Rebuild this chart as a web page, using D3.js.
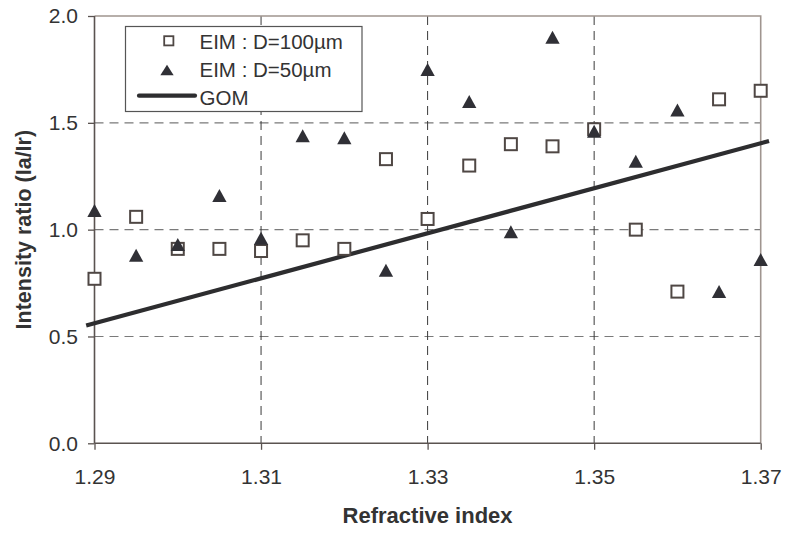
<!DOCTYPE html>
<html>
<head>
<meta charset="utf-8">
<script src="https://cdn.jsdelivr.net/npm/d3@7"></script>
<style>
  html, body { margin: 0; padding: 0; background: #fff; }
  svg { display: block; font-family: "Liberation Sans", Arial, Helvetica, sans-serif; }
</style>
</head>
<body>
<svg id="chart" width="785" height="537"></svg>
<script>
// ---- data ----
const refractiveIndex = [1.29, 1.295, 1.30, 1.305, 1.31, 1.315, 1.32, 1.325, 1.33, 1.335, 1.34, 1.345, 1.35, 1.355, 1.36, 1.365, 1.37];
const eim100 = [0.77, 1.06, 0.91, 0.91, 0.90, 0.95, 0.91, 1.33, 1.05, 1.30, 1.40, 1.39, 1.47, 1.00, 0.71, 1.61, 1.65];
const eim50  = [1.09, 0.88, 0.93, 1.16, 0.96, 1.44, 1.43, 0.81, 1.75, 1.60, 0.99, 1.90, 1.46, 1.32, 1.56, 0.71, 0.86];
const gomX = [1.289, 1.371];
const gomY = [0.551, 1.415];
const seriesNames = ["EIM : D=100µm", "EIM : D=50µm", "GOM"];
const xTicks = [1.29, 1.31, 1.33, 1.35, 1.37];
const yTicks = [0.0, 0.5, 1.0, 1.5, 2.0];
const xTitle = "Refractive index";
const yTitle = "Intensity ratio (Ia/Ir)";

// ---- layout ----
const W = 785, H = 537;
const m = { left: 94.5, top: 16, right: 24.3, bottom: 93.7 };
const svg = d3.select("#chart");

const x = d3.scaleLinear().domain([1.29, 1.37]).range([m.left, W - m.right]);
const y = d3.scaleLinear().domain([0, 2]).range([H - m.bottom, m.top]);

const axisCol = "#5a5350", borderCol = "#a0958f", textCol = "#333";

// custom bbox-centred triangle symbol (width w, height h)
function triangleType(w, h) {
  return { draw(ctx) { ctx.moveTo(0, -h / 2); ctx.lineTo(w / 2, h / 2); ctx.lineTo(-w / 2, h / 2); ctx.closePath(); } };
}

// horizontal gridlines
svg.append("g").selectAll("line")
  .data(yTicks.filter(v => v > 0 && v < 2))
  .join("line")
  .attr("x1", x(1.29)).attr("x2", x(1.37))
  .attr("y1", d => y(d)).attr("y2", d => y(d))
  .attr("stroke", "#7a7a7a").attr("stroke-width", 1.1)
  .attr("stroke-dasharray", "9,6");

// vertical gridlines
svg.append("g").selectAll("line")
  .data(xTicks.filter(v => v > 1.29 && v < 1.37))
  .join("line")
  .attr("x1", d => x(d)).attr("x2", d => x(d))
  .attr("y1", y(2)).attr("y2", y(0))
  .attr("stroke", "#3a3a3a").attr("stroke-width", 1)
  .attr("stroke-dasharray", "9,6");

// top and right border
svg.append("path")
  .attr("d", `M${x(1.29)},${y(2)}H${x(1.37)}V${y(0)}`)
  .attr("fill", "none").attr("stroke", borderCol).attr("stroke-width", 1.6);

// axes
const yAxis = d3.axisLeft(y).tickValues(yTicks).tickFormat(d3.format(".1f"))
  .tickSize(6.5).tickPadding(10);
const gy = svg.append("g").attr("transform", `translate(${m.left},0)`).call(yAxis);
const xAxis = d3.axisBottom(x).tickValues(xTicks).tickFormat(d3.format(".2f"))
  .tickSize(6.5).tickPadding(19);
const gx = svg.append("g").attr("transform", `translate(0,${H - m.bottom})`).call(xAxis);
[gx, gy].forEach(g => {
  g.select(".domain").attr("stroke", axisCol).attr("stroke-width", 1.6);
  g.selectAll(".tick line").attr("stroke", axisCol).attr("stroke-width", 1.3);
  g.selectAll(".tick text").attr("fill", textCol).attr("font-size", 21)
    .attr("font-family", "'Liberation Sans', Arial, sans-serif");
});
gx.select(".domain").attr("d", `M${x(1.29)},0H${x(1.37)}`);
gy.select(".domain").attr("d", `M0,${y(0)}V${y(2)}`);

// titles
svg.append("text")
  .attr("x", (x(1.29) + x(1.37)) / 2).attr("y", 523)
  .attr("text-anchor", "middle").attr("font-size", 22).attr("font-weight", "bold")
  .attr("fill", textCol).text(xTitle);
svg.append("text")
  .attr("transform", `translate(30.5,${(y(0) + y(2)) / 2}) rotate(-90)`)
  .attr("text-anchor", "middle").attr("font-size", 21.5).attr("font-weight", "bold")
  .attr("fill", textCol).text(yTitle);

// GOM line
svg.append("path")
  .datum(gomX.map((v, i) => [v, gomY[i]]))
  .attr("d", d3.line().x(d => x(d[0])).y(d => y(d[1])))
  .attr("fill", "none").attr("stroke", "#2d2d2f").attr("stroke-width", 4.2);

// squares (D=100)
const sq = 12;
svg.append("g").selectAll("rect")
  .data(refractiveIndex.map((v, i) => [v, eim100[i]]))
  .join("rect")
  .attr("x", d => x(d[0]) - sq / 2).attr("y", d => y(d[1]) - sq / 2)
  .attr("width", sq).attr("height", sq)
  .attr("fill", "#fff").attr("stroke", "#4f4744").attr("stroke-width", 2);

// triangles (D=50)
const tri = d3.symbol(triangleType(14.3, 13));
svg.append("g").selectAll("path")
  .data(refractiveIndex.map((v, i) => [v, eim50[i]]))
  .join("path")
  .attr("d", tri)
  .attr("transform", d => `translate(${x(d[0])},${y(d[1])})`)
  .attr("fill", "#303036");

// legend
const lg = svg.append("g");
lg.append("rect").attr("x", 125.5).attr("y", 26.5).attr("width", 236.5).attr("height", 85)
  .attr("fill", "#fff").attr("stroke", "#555").attr("stroke-width", 1.2);
const rows = [49, 77, 105];
lg.selectAll("text").data(seriesNames).join("text")
  .attr("x", 199.5).attr("y", (d, i) => rows[i])
  .attr("font-size", 20.5).attr("fill", textCol).text(d => d);
lg.append("rect").attr("x", 164.2).attr("y", 36.2).attr("width", 9.2).attr("height", 9.2)
  .attr("fill", "#fff").attr("stroke", "#4f4744").attr("stroke-width", 1.8);
lg.append("path").attr("d", d3.symbol(triangleType(13.3, 10.5)))
  .attr("transform", "translate(167,70)").attr("fill", "#303036");
lg.append("line").attr("x1", 139).attr("x2", 195).attr("y1", 95.7).attr("y2", 95.7)
  .attr("stroke", "#2d2d2f").attr("stroke-width", 4.2).attr("stroke-linecap", "round");
</script>
</body>
</html>
